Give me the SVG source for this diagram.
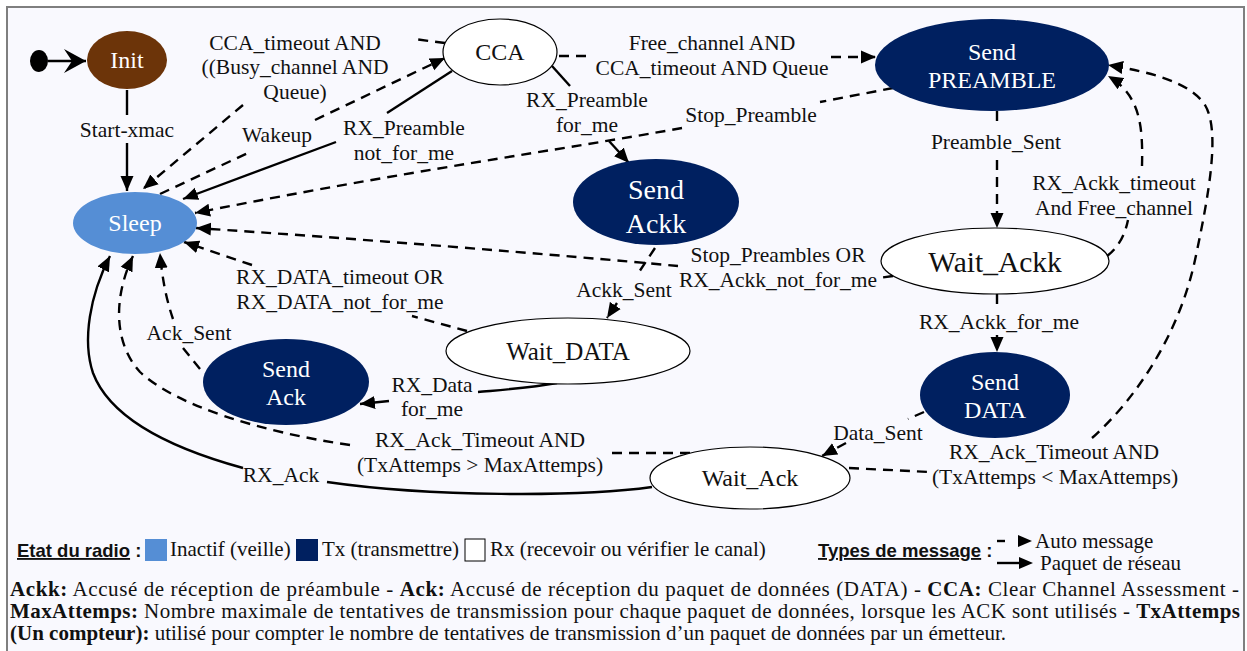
<svg xmlns="http://www.w3.org/2000/svg" width="1247" height="651" viewBox="0 0 1247 651">
  <defs>
    <marker id="arr" markerUnits="userSpaceOnUse" markerWidth="16" markerHeight="14" refX="15" refY="7" orient="auto">
      <path d="M0,0.5 L15,7 L0,13.5 z" fill="#000" stroke="none"/>
    </marker>
    <marker id="vee" markerUnits="userSpaceOnUse" markerWidth="24" markerHeight="26" refX="22" refY="13" orient="auto">
      <path d="M0,1 L22,13 L0,25 L8,13 z" fill="#000" stroke="none"/>
    </marker>
    <style>
      .edge{fill:none;stroke:#000;stroke-width:2.4}
      .dash{stroke-dasharray:10 7}
      .end{marker-end:url(#arr)}
      .lbl{font-size:21.5px;fill:#111;text-anchor:middle}
      .nt{text-anchor:middle}
      .w{fill:#fff}
      .k{fill:#111}
      .rx{fill:#fff;stroke:#000;stroke-width:1.2}
      .tx{fill:#002060}
      .leg{font-size:21px;fill:#111}
      .hd{font-size:18.5px;font-weight:bold;fill:#111}
      .b{font-weight:bold}
    </style>
  </defs>

  <!-- page and frame -->
  <rect x="0" y="0" width="1247" height="651" fill="#fff"/>
  <rect x="7" y="7" width="1237" height="670" fill="#f9f9fe" stroke="#7f7f7f" stroke-width="2"/>

  <g font-family="Liberation Serif, DejaVu Serif, serif">
  <!-- connectors -->
  <g id="connectors">
    <!-- start -> Init -->
    <ellipse cx="39" cy="61" rx="9" ry="11" fill="#000"/>
    <path class="edge" d="M48,61 L86,61" marker-end="url(#vee)"/>
    <!-- Init -> Sleep -->
    <path class="edge" d="M127,90 L127,115"/>
    <path class="edge end" d="M127,143 L127,191"/>
    <!-- CCA -> Sleep (timeout / busy) -->
    <path class="edge dash" d="M445,43 L414,39"/>
    <path class="edge dash end" d="M243,105 L143,189"/>
    <!-- Sleep -> CCA (Wakeup) -->
    <path class="edge dash" d="M160,194 L250,152"/>
    <path class="edge dash end" d="M315,120 L445,58"/>
    <!-- CCA -> Sleep (preamble not for me) -->
    <path class="edge" d="M452,71 L387,113"/>
    <path class="edge end" d="M336,142 L183,199"/>
    <!-- Send PREAMBLE -> Sleep -->
    <path class="edge dash" d="M893,88 L820,102"/>
    <path class="edge dash end" d="M682,128 C560,150 400,172 195,213"/>
    <!-- Wait_Ackk -> Sleep -->
    <path class="edge dash" d="M893,276 L879,278"/>
    <path class="edge dash end" d="M678,266 C560,255 350,238 196,228"/>
    <!-- Wait_DATA -> Sleep -->
    <path class="edge dash" d="M467,331 L412,316"/>
    <path class="edge dash end" d="M252,265 L184,242"/>
    <!-- Send Ack -> Sleep -->
    <path class="edge dash" d="M200,369 L183,348"/>
    <path class="edge dash end" d="M173,319 Q163,290 160,253"/>
    <!-- Wait_Ack -> Sleep (timeout, max reached) -->
    <path class="edge dash" d="M690,453 L612,453"/>
    <path class="edge dash end" d="M350,445 C260,432 175,405 140,372 C115,345 112,300 133,256"/>
    <!-- Wait_Ack -> Sleep (RX_Ack) -->
    <path class="edge" d="M652,487 C580,497 430,497 327,482"/>
    <path class="edge end" d="M243,468 C170,448 110,418 93,373 C82,340 90,295 110,256"/>
    <!-- CCA -> Send PREAMBLE -->
    <path class="edge dash" d="M559,56 L590,56"/>
    <path class="edge dash end" d="M831,57 L876,57"/>
    <!-- CCA -> Send Ackk -->
    <path class="edge" d="M552,66 L570,86"/>
    <path class="edge end" d="M609,141 L629,163"/>
    <!-- Send PREAMBLE -> Wait_Ackk -->
    <path class="edge dash" d="M997,111 L997,128"/>
    <path class="edge dash end" d="M997,160 L997,228"/>
    <!-- Wait_Ackk -> Send PREAMBLE -->
    <path class="edge dash" d="M1107,256 C1118,248 1125,235 1128,220"/>
    <path class="edge dash end" d="M1142,166 C1143,125 1140,95 1108,76"/>
    <!-- Wait_Ack -> Send PREAMBLE (retry) -->
    <path class="edge dash" d="M849,468 L930,472"/>
    <path class="edge dash end" d="M1092,438 C1140,395 1180,330 1195,260 C1210,190 1220,130 1205,105 C1190,82 1150,72 1108,65"/>
    <!-- Wait_Ackk -> Send DATA -->
    <path class="edge dash" d="M997,294 L997,307"/>
    <path class="edge dash end" d="M997,335 L997,352"/>
    <!-- Send DATA -> Wait_Ack -->
    <path class="edge dash" d="M924,412 L908,419"/>
    <path class="edge dash end" d="M846,443 L822,456"/>
    <!-- Send Ackk -> Wait_DATA -->
    <path class="edge dash" d="M655,248 L639,272"/>
    <path class="edge dash end" d="M617,303 L607,318"/>
    <!-- Wait_DATA -> Send Ack -->
    <path class="edge" d="M557,383 C530,388 500,390 478,392"/>
    <path class="edge end" d="M389,401 L360,404"/>

    <!-- connector labels -->
    <text class="lbl" x="127" y="137">Start-xmac</text>
    <text class="lbl" x="295" y="50">CCA_timeout AND</text>
    <text class="lbl" x="295" y="74">((Busy_channel AND</text>
    <text class="lbl" x="295" y="99">Queue)</text>
    <text class="lbl" x="277" y="142">Wakeup</text>
    <text class="lbl" x="404" y="135">RX_Preamble</text>
    <text class="lbl" x="404" y="160">not_for_me</text>
    <text class="lbl" x="587" y="107">RX_Preamble</text>
    <text class="lbl" x="587" y="132">for_me</text>
    <text class="lbl" x="712" y="50">Free_channel AND</text>
    <text class="lbl" x="712" y="75">CCA_timeout AND Queue</text>
    <text class="lbl" x="751" y="122">Stop_Preamble</text>
    <text class="lbl" x="996" y="149">Preamble_Sent</text>
    <text class="lbl" x="1114" y="190">RX_Ackk_timeout</text>
    <text class="lbl" x="1114" y="215">And Free_channel</text>
    <text class="lbl" x="778" y="262">Stop_Preambles OR</text>
    <text class="lbl" x="778" y="287">RX_Ackk_not_for_me</text>
    <text class="lbl" x="340" y="284">RX_DATA_timeout OR</text>
    <text class="lbl" x="340" y="309">RX_DATA_not_for_me</text>
    <text class="lbl" x="624" y="297">Ackk_Sent</text>
    <text class="lbl" x="189" y="340">Ack_Sent</text>
    <text class="lbl" x="432" y="392">RX_Data</text>
    <text class="lbl" x="432" y="416">for_me</text>
    <text class="lbl" x="480" y="447">RX_Ack_Timeout AND</text>
    <text class="lbl" x="480" y="472">(TxAttemps &gt; MaxAttemps)</text>
    <text class="lbl" x="281" y="482">RX_Ack</text>
    <text class="lbl" x="878" y="440">Data_Sent</text>
    <text class="lbl" x="999" y="329">RX_Ackk_for_me</text>
    <text class="lbl" x="1054" y="459">RX_Ack_Timeout AND</text>
    <text class="lbl" x="1055" y="484">(TxAttemps &lt; MaxAttemps)</text>
  </g>

  <!-- states -->
  <g id="init">
    <ellipse cx="127" cy="60" rx="40" ry="29" fill="#6c3409"/>
    <text class="nt w" x="127" y="68" font-size="24">Init</text>
  </g>
  <g id="sleep">
    <ellipse cx="135" cy="223" rx="62" ry="31" fill="#558ed5"/>
    <text class="nt w" x="135" y="231" font-size="24">Sleep</text>
  </g>
  <g id="cca">
    <ellipse class="rx" cx="500" cy="52" rx="57" ry="33"/>
    <text class="nt k" x="500" y="60" font-size="24">CCA</text>
  </g>
  <g id="send-preamble">
    <ellipse class="tx" cx="992" cy="65" rx="117" ry="46"/>
    <text class="nt w" x="992" y="60" font-size="24">Send</text>
    <text class="nt w" x="992" y="88" font-size="24">PREAMBLE</text>
  </g>
  <g id="send-ackk">
    <ellipse class="tx" cx="656" cy="202" rx="83" ry="43"/>
    <text class="nt w" x="656" y="199" font-size="28">Send</text>
    <text class="nt w" x="656" y="233" font-size="28">Ackk</text>
  </g>
  <g id="wait-ackk">
    <ellipse class="rx" cx="995" cy="261" rx="114" ry="33"/>
    <text class="nt k" x="995" y="272" font-size="29.5">Wait_Ackk</text>
  </g>
  <g id="send-data">
    <ellipse class="tx" cx="995" cy="395" rx="75" ry="43"/>
    <text class="nt w" x="995" y="390" font-size="24">Send</text>
    <text class="nt w" x="995" y="418" font-size="24">DATA</text>
  </g>
  <g id="wait-data">
    <ellipse class="rx" cx="568" cy="351" rx="122" ry="33"/>
    <text class="nt k" x="568" y="360" font-size="25">Wait_DATA</text>
  </g>
  <g id="send-ack">
    <ellipse class="tx" cx="286" cy="382" rx="83" ry="43"/>
    <text class="nt w" x="286" y="377" font-size="24">Send</text>
    <text class="nt w" x="286" y="405" font-size="24">Ack</text>
  </g>
  <g id="wait-ack">
    <ellipse class="rx" cx="750" cy="478" rx="100" ry="31"/>
    <text class="nt k" x="750" y="486" font-size="24">Wait_Ack</text>
  </g>

  <!-- legend -->
  <g id="legend">
    <text class="hd" font-family="Liberation Sans, Arial, sans-serif" x="17" y="557"><tspan text-decoration="underline">Etat du radio</tspan> :</text>
    <rect x="145" y="539" width="22" height="22" fill="#558ed5"/>
    <text class="leg" x="170" y="556">Inactif (veille)</text>
    <rect x="296" y="539" width="22" height="22" fill="#002060"/>
    <text class="leg" x="322" y="556">Tx (transmettre)</text>
    <rect x="465" y="539" width="20" height="22" fill="#fff" stroke="#000" stroke-width="1"/>
    <text class="leg" x="490" y="556">Rx (recevoir ou vérifier le canal)</text>

    <text class="hd" font-family="Liberation Sans, Arial, sans-serif" x="818" y="557"><tspan text-decoration="underline">Types de message</tspan> :</text>
    <path class="edge" d="M997,541 L1005,541"/>
    <path d="M1018,535 L1032,541 L1018,547 z" fill="#000"/>
    <text class="leg" x="1035" y="548">Auto message</text>
    <path class="edge" d="M997,563 L1021,563"/>
    <path d="M1019,557 L1033,563 L1019,569 z" fill="#000"/>
    <text class="leg" x="1040" y="570">Paquet de réseau</text>

    <text class="leg" x="10" y="596" textLength="1229" lengthAdjust="spacing"><tspan class="b">Ackk:</tspan> Accusé de réception de préambule  -  <tspan class="b">Ack:</tspan> Accusé de réception du paquet de données (DATA)  - <tspan class="b">CCA:</tspan> Clear Channel Assessment -</text>
    <text class="leg" x="10" y="618" textLength="1230" lengthAdjust="spacing"><tspan class="b">MaxAttemps:</tspan> Nombre maximale de tentatives de transmission pour chaque paquet de données, lorsque les ACK sont utilisés - <tspan class="b">TxAttemps</tspan></text>
    <text class="leg" x="10" y="640"><tspan class="b">(Un compteur):</tspan> utilisé pour compter le nombre de tentatives de transmission d’un paquet de données par un émetteur.</text>
  </g>
  </g>
</svg>
